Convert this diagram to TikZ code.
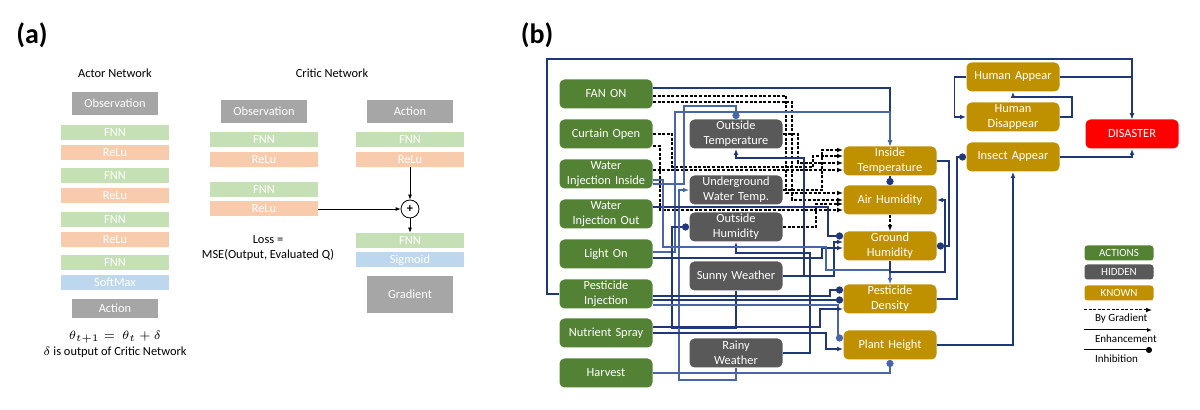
\documentclass[tikz,border=0pt]{standalone}
\usepackage{fontspec}
\setmainfont{Carlito}
\usetikzlibrary{arrows.meta}
\definecolor{actgreen}{RGB}{84,130,53}
\definecolor{hidgray}{RGB}{89,89,89}
\definecolor{kngold}{RGB}{191,144,0}
\definecolor{navy}{RGB}{32,56,120}
\definecolor{steel}{RGB}{72,102,168}
\definecolor{fnngreen}{RGB}{197,224,180}
\definecolor{relured}{RGB}{248,203,173}
\definecolor{sigblue}{RGB}{189,215,238}
\definecolor{obsgray}{RGB}{166,166,166}
\newcommand{\boxfont}{\fontsize{6.2}{7.5}\selectfont}
\newcommand{\keyfont}{\fontsize{5.5}{6.5}\selectfont}

\begin{document}
\begin{tikzpicture}[x=0.5pt, y=-0.5pt]
    \tikzset{
      layer/.style={rectangle, inner sep=0pt, minimum width=54pt, minimum height=7.5pt, text=white, font=\boxfont},
      fnn/.style={layer, fill=fnngreen},
      relu/.style={layer, fill=relured},
      soft/.style={layer, fill=sigblue},
      io/.style={layer, fill=obsgray, minimum width=43pt, minimum height=11.5pt},
      state/.style={rectangle, rounded corners=2.5pt, inner sep=0pt, minimum width=46.5pt, minimum height=14.5pt, text width=44pt, align=center, text=white, font=\boxfont},
      act/.style={state, fill=actgreen},
      hid/.style={state, fill=hidgray},
      known/.style={state, fill=kngold},
      key/.style={state, minimum width=34.5pt, minimum height=7.5pt, text width=33pt, rounded corners=1.5pt, font=\keyfont},
      title/.style={font=\boxfont},
      tag/.style={font=\fontsize{14}{16}\selectfont\bfseries},
      line/.style={draw, line width=0.4pt, -{Latex[length=2.5pt,width=2pt]}},
      enh/.style={draw=navy, line width=0.6pt, -{Latex[length=3pt,width=2.4pt]}},
      enhl/.style={enh, draw=steel},
      inh/.style={draw=navy, line width=0.6pt, -{Circle[length=3.6pt]}},
      inhl/.style={inh, draw=steel},
      grad/.style={draw=black, line width=0.7pt, dash pattern=on 1.5pt off 0.8pt, -{Latex[length=3pt,width=2.4pt]}}
    }
    \useasboundingbox (0,0) rectangle (1200,410);

    % (a) actor / critic
    \node [tag] (taga) at (32,35) {(a)};
    \node [title] (actt) at (115,73) {Actor Network};
    \node [title] (critt) at (332,73) {Critic Network};
    \node [io] (aobs) at (115,103.5) {Observation};
    \foreach \n/\y in {1/132.5, 2/175.5, 3/219.5} {
      \node [fnn] (afnn\n) at (115,\y) {FNN};
      \node [relu] (arelu\n) at (115,\y+20) {ReLu};
    }
    \node [fnn] (afnn4) at (115,263) {FNN};
    \node [soft] (asoft) at (115,282.5) {SoftMax};
    \node [io, minimum height=9.5pt] (aact) at (115,308.5) {Action};
    \node [title] (upd) at (115,337) {$\theta_{t+1} = \ \theta_t + \delta$};
    \node [title] (updnote) at (115,352) {$\delta$ is output of Critic Network};

    \node [io] (cobs) at (264,111.5) {Observation};
    \node [fnn] (cofnn1) at (264,140) {FNN};
    \node [relu] (corelu1) at (264,159.5) {ReLu};
    \node [fnn] (cofnn2) at (264,189.5) {FNN};
    \node [relu] (corelu2) at (264,209) {ReLu};
    \node [io] (cact) at (410,111.5) {Action};
    \node [fnn] (cafnn) at (410,140) {FNN};
    \node [relu] (carelu) at (410,159.5) {ReLu};
    \node [draw, circle, inner sep=0pt, minimum size=9pt, font=\boxfont\bfseries] (sum) at (410,209) {+};
    \node [fnn] (outfnn) at (410,240.5) {FNN};
    \node [soft] (outsig) at (410,260) {Sigmoid};
    \node [io, minimum height=18.5pt] (cgrad) at (410,294.5) {Gradient};
    \node [title, align=center] (loss) at (268,248.5) {Loss =\\MSE(Output, Evaluated Q)};
    \path [line] (carelu) -- (sum);
    \path [line] (corelu2) -- (sum);
    \path [line] (sum) -- (outfnn);

    % (b) greenhouse graph
    \node [tag] (tagb) at (537,35) {(b)};
    \node [act] (fan) at (606,94) {FAN ON};
    \node [act] (curtain) at (606,134) {Curtain Open};
    \node [act] (wii) at (606,174) {Water\\Injection Inside};
    \node [act] (wio) at (606,214) {Water\\Injection Out};
    \node [act] (light) at (606,254) {Light On};
    \node [act] (pinj) at (606,294) {Pesticide\\Injection};
    \node [act] (nutri) at (606,333) {Nutrient Spray};
    \node [act] (harvest) at (606,373) {Harvest};

    \node [hid] (ot) at (736,134) {Outside\\Temperature};
    \node [hid] (uwt) at (736,190) {Underground\\Water Temp.};
    \node [hid] (oh) at (736,227) {Outside\\Humidity};
    \node [hid] (sunny) at (736,276) {Sunny Weather};
    \node [hid] (rainy) at (736,353) {Rainy\\Weather};

    \node [known] (it) at (890,161) {Inside\\Temperature};
    \node [known] (ah) at (890,200) {Air Humidity};
    \node [known] (gh) at (890,246) {Ground\\Humidity};
    \node [known] (pd) at (890,299) {Pesticide\\Density};
    \node [known] (ph) at (890,345) {Plant Height};
    \node [known] (ha) at (1013,77) {Human Appear};
    \node [known] (hd) at (1013,117) {Human\\Disappear};
    \node [known] (ia) at (1013,157) {Insect Appear};
    \node [state, fill=red] (dis) at (1132,134) {DISASTER};

    \path [grad] ([yshift=-1pt]fan.east) -| (786,193) -- ([yshift=3.5pt]ah.west);
    \path [grad] ([yshift=-4pt]fan.east) -| (792,200) -- (ah.west);
    \path [grad] (curtain.east) -| (672,167) -| (813,156) -- ([yshift=2.5pt]it.west);
    \path [grad] ([yshift=-6pt]curtain.east) -| (660,210) -- ([yshift=-5pt]ah.west);
    \path [grad] ([yshift=2pt]wii.east) -- ([yshift=-4.5pt]it.west);
    \path [grad] (ot.east) -| (798,163) -- ([yshift=-1pt]it.west);
    \path [grad] (uwt.east) -| (822,150) -- ([yshift=5.5pt]it.west);
    \path [grad] (oh.east) -| (816,204) -- ([yshift=-2pt]ah.west);
    \path [grad] (ah.south) -- (gh.north);

    \path [enh] ([yshift=3pt]fan.east) -| (it.north);
    \path [enhl] ([yshift=1pt]light.east) -| (675,112) -| (it.north);
    \path [inhl] ([yshift=-5pt]wii.east) -| (684,106) -| (ot.north);
    \path [enh] (sunny.east) -| (804,158) -| (ot.south);
    \path [enh] (rainy.east) -| (810,253) -| (oh.south);
    \path [inh] (sunny.south) |- (672,328) |- (oh.west);
    \path [enhl] (rainy.south) |- (679,380) |- (uwt.west);
    \path [inhl] (harvest.east) -| (ph.south);
    \path [inh] ([yshift=3.5pt]wio.east) -| (828,236) -- ([yshift=5pt]gh.west);
    \path [enh] (sunny.east) -| (834,242) -- ([yshift=2pt]gh.west);
    \path [enh] ([yshift=-2pt]light.east) -| (822,248) -- ([yshift=-1pt]gh.west);
    \path [enhl] ([yshift=-3pt]wii.east) -| (663,247) -| (826,270) -| (pd.north);
    \path [inh] ([yshift=-1pt]pinj.east) -| (830,290) -- ([yshift=4.5pt]pd.west);
    \path [inh] ([yshift=-3pt]pinj.east) -- ([yshift=-0.5pt]pd.west);
    \path [inhl] ([yshift=-5.5pt]pinj.east) -| (838,338) -- ([yshift=3.5pt]ph.west);
    \path [enh] (nutri.east) -| (826,349) -- ([yshift=-2pt]ph.west);
    \path [enh] ([yshift=3pt]nutri.east) -| (820,309) -- ([yshift=-5pt]pd.west);

    \path [inh] (it.south) -- (ah.north);
    \path [inh] (it.east) -| (949,246) -- (gh.east);
    \path [enh] (gh.south) |- (945,272) |- (ah.east);
    \path [inh] (pd.east) -| (957,157) -- (ia.west);
    \path [enh] (ph.east) -| (ia.south);
    \path [enh] (ia.east) -| (dis.south);
    \path [enh] (ha.east) -| (dis.north);
    \path [enh] (ha.west) -- ++(-12,0) |- (hd.west);
    \path [enh] (hd.east) -| (1072,97) -| (ha.south);
    \path [enh] (pinj.west) -| (547,59) -| (dis.north);

    % legend
    \node [key, fill=actgreen] (kact) at (1119,253) {ACTIONS};
    \node [key, fill=hidgray] (khid) at (1119,272) {HIDDEN};
    \node [key, fill=kngold] (kknown) at (1119,293) {KNOWN};
    \coordinate (lga) at (1084,310);
    \coordinate (lgb) at (1152,310);
    \coordinate (lea) at (1084,330);
    \coordinate (leb) at (1152,330);
    \coordinate (lia) at (1084,350);
    \coordinate (lib) at (1152,350);
    \path [grad, line width=0.5pt] (lga) -- (lgb);
    \path [line, line width=0.5pt] (lea) -- (leb);
    \path [draw, line width=0.5pt, -{Circle[length=3pt]}] (lia) -- (lib);
    \node [font=\keyfont, anchor=west] (lgtxt) at (1088,319) {By Gradient};
    \node [font=\keyfont, anchor=west] (letxt) at (1088,339) {Enhancement};
    \node [font=\keyfont, anchor=west] (litxt) at (1088,359) {Inhibition};
\end{tikzpicture}
\end{document}
